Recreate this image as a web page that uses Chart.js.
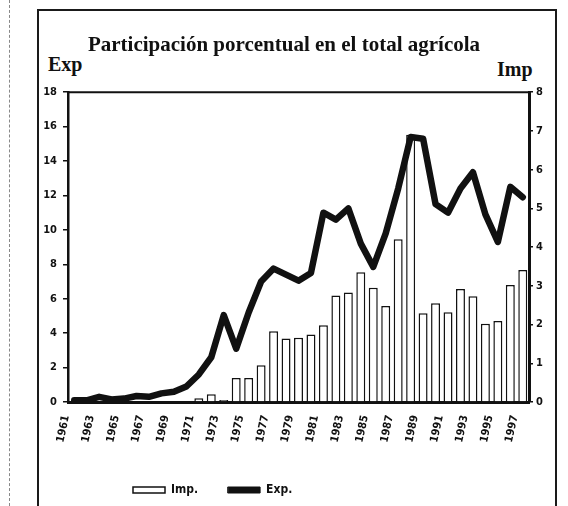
<!DOCTYPE html>
<html>
<head>
<meta charset="utf-8">
<script src="https://cdn.jsdelivr.net/npm/chart.js@4.4.1/dist/chart.umd.min.js"></script>
<style>
    html, body { margin: 0; padding: 0; background: #fff; }
    #wrap { position: relative; width: 568px; height: 506px; overflow: hidden; }
    #frame { position: absolute; left: 37px; top: 9px; width: 516px; height: 520px; border: 2px solid #1a1a1a; }
    #edge { position: absolute; left: 9px; top: 0; width: 0; height: 506px; border-left: 1px dashed #888; }
    .axis-name { position: absolute; font: bold 20px 'Liberation Serif', 'Times New Roman', serif; color: #111; line-height: 20px; }
    canvas { position: absolute; left: 0; top: 0; }
</style>
</head>
<body>
<div id="wrap">
    <div id="edge"></div>
    <div id="frame"></div>
    <div class="axis-name" style="left:48px; top:54px;">Exp</div>
    <div class="axis-name" style="left:497px; top:59px;">Imp</div>
    <canvas id="chart" width="568" height="506"></canvas>
</div>
<script>
// Chart data: share of the agricultural total (%)
const years = ['1961', '1962', '1963', '1964', '1965', '1966', '1967', '1968', '1969', '1970',
               '1971', '1972', '1973', '1974', '1975', '1976', '1977', '1978', '1979', '1980',
               '1981', '1982', '1983', '1984', '1985', '1986', '1987', '1988', '1989', '1990',
               '1991', '1992', '1993', '1994', '1995', '1996', '1997'];

// Exports (left axis)
const expValues = [0.1, 0.1, 0.3, 0.15, 0.2, 0.35, 0.3, 0.5, 0.6, 0.9,
                   1.6, 2.6, 5.05, 3.1, 5.2, 7.0, 7.75, 7.4, 7.05, 7.5,
                   11.0, 10.6, 11.25, 9.2, 7.85, 9.8, 12.4, 15.4, 15.3, 11.5,
                   11.0, 12.4, 13.35, 10.9, 9.3, 12.5, 11.9];

// Imports (right axis)
const impValues = [null, null, null, null, null, null, null, null, null, null,
                   0.1, 0.2, 0.05, 0.62, 0.62, 0.95, 1.83, 1.64, 1.66, 1.74,
                   1.98, 2.75, 2.83, 3.35, 2.95, 2.48, 4.2, 6.9, 2.29, 2.55,
                   2.32, 2.92, 2.73, 2.02, 2.09, 3.02, 3.41];

const expTicks = [0, 2, 4, 6, 8, 10, 12, 14, 16, 18];
const impTicks = [0, 1, 2, 3, 4, 5, 6, 7, 8];

const INK = '#111';
const tickFont = { family: "'Liberation Sans Narrow', 'DejaVu Sans Condensed', 'Liberation Sans', sans-serif", size: 11, weight: 'bold' };

/**
 * Draw the top edge of the plot box
 */
const plotFrame = {
    id: 'plotFrame',
    afterDatasetsDraw(chart) {
        const { ctx, chartArea } = chart;
        ctx.save();
        ctx.strokeStyle = INK;
        ctx.lineWidth = 2;
        ctx.beginPath();
        ctx.moveTo(chartArea.left, chartArea.top);
        ctx.lineTo(chartArea.right, chartArea.top);
        ctx.stroke();
        ctx.restore();
    }
};

/**
 * Put title and legend where the original has them
 */
const blockPlace = {
    id: 'blockPlace',
    afterUpdate(chart) {
        const title = chart.titleBlock;
        if (title) {
            title.left = 0;
            title.right = chart.width;
        }
        const legend = chart.legend;
        if (legend) {
            const pad = legend.options.labels.padding;
            legend.left = 133 - pad;
            legend.right = chart.width;
            legend.top = 484 - pad;
            legend.bottom = chart.height;
        }
    }
};

const ctx = document.getElementById('chart').getContext('2d');

new Chart(ctx, {
    data: {
        labels: years,
        datasets: [{
            type: 'bar',
            label: 'Imp.',
            data: impValues,
            yAxisID: 'y1',
            backgroundColor: '#fff',
            borderColor: INK,
            borderWidth: 1.5,
            borderSkipped: 'start',
            barPercentage: 0.72,
            categoryPercentage: 1,
            order: 1
        }, {
            type: 'line',
            label: 'Exp.',
            data: expValues,
            yAxisID: 'y',
            borderColor: INK,
            backgroundColor: INK,
            borderWidth: 6.5,
            borderCapStyle: 'round',
            borderJoinStyle: 'round',
            pointRadius: 0,
            tension: 0,
            fill: false,
            order: 0
        }]
    },
    options: {
        responsive: false,
        animation: false,
        layout: { padding: { top: 0, left: 38, right: 12, bottom: 14 } },
        plugins: {
            title: {
                display: true,
                text: 'Participación porcentual en el total agrícola',
                color: INK,
                font: { family: "'Liberation Serif', 'Times New Roman', serif", size: 21, weight: 'bold', lineHeight: 1.2 },
                padding: { top: 33, bottom: 34 }
            },
            legend: {
                position: 'bottom',
                align: 'start',
                maxHeight: 30,
                labels: {
                    color: INK,
                    font: { family: tickFont.family, size: 12, weight: 'bold' },
                    boxWidth: 32,
                    boxHeight: 6,
                    padding: 30,
                    sort: (a, b) => a.datasetIndex - b.datasetIndex,
                    generateLabels(chart) {
                        const items = Chart.defaults.plugins.legend.labels.generateLabels(chart);
                        return items.map(item => {
                            if (item.datasetIndex === 1) {
                                item.lineWidth = 1;
                                item.fillStyle = INK;
                                item.lineCap = 'round';
                            } else {
                                item.lineWidth = 1.5;
                            }
                            return item;
                        });
                    }
                }
            },
            tooltip: { enabled: false }
        },
        scales: {
            x: {
                offset: true,
                grid: { display: false },
                border: { display: true, color: INK, width: 3 },
                afterFit(scale) { scale.height = 60; },
                ticks: {
                    autoSkip: false,
                    minRotation: 78,
                    maxRotation: 78,
                    labelOffset: -8,
                    padding: 4,
                    color: INK,
                    font: tickFont,
                    callback(value, index) {
                        return index % 2 === 0 ? this.getLabelForValue(value) : '';
                    }
                }
            },
            y: {
                position: 'left',
                min: expTicks[0],
                max: expTicks[expTicks.length - 1],
                afterFit(scale) { scale.width = 30; },
                afterBuildTicks(scale) { scale.ticks = expTicks.map(v => ({ value: v })); },
                grid: { drawOnChartArea: false, drawTicks: true, tickLength: 5, color: INK, lineWidth: 1.5 },
                border: { display: true, color: INK, width: 2.5 },
                ticks: { color: INK, font: tickFont, padding: 6 }
            },
            y1: {
                position: 'right',
                min: impTicks[0],
                max: impTicks[impTicks.length - 1],
                afterFit(scale) { scale.width = 27; },
                afterBuildTicks(scale) { scale.ticks = impTicks.map(v => ({ value: v })); },
                grid: { drawOnChartArea: false, drawTicks: true, tickLength: 4, color: INK, lineWidth: 1.5 },
                border: { display: true, color: INK, width: 3 },
                ticks: { color: INK, font: tickFont, padding: 3 }
            }
        }
    },
    plugins: [plotFrame, blockPlace]
});
</script>
</body>
</html>
